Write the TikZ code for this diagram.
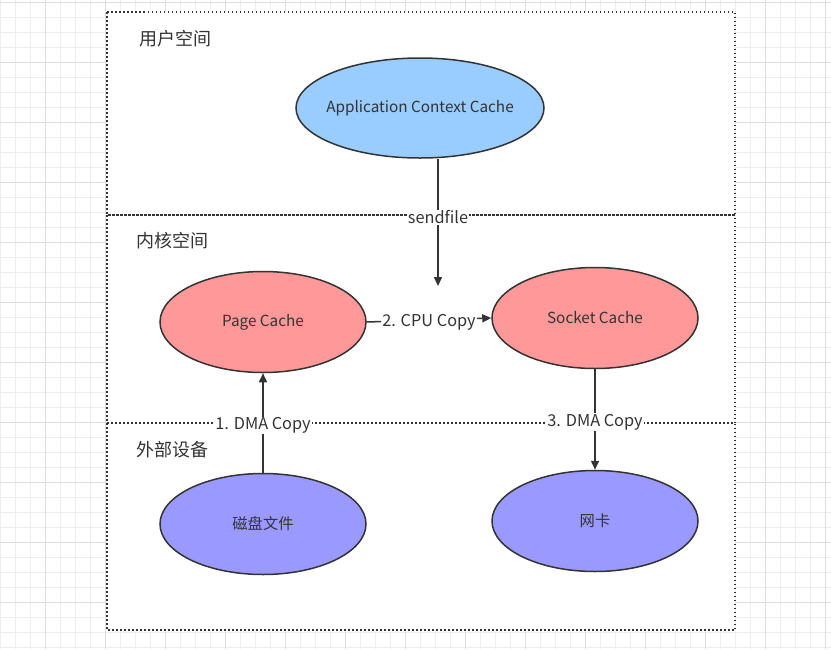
\documentclass[tikz,border=0pt]{standalone}
\usepackage{fontspec}
\setmainfont{Noto Sans CJK SC}
\usetikzlibrary{arrows.meta,shapes.geometric}
\definecolor{gridminor}{HTML}{EDEDED}
\definecolor{gridmajor}{HTML}{DEDEDE}
\definecolor{linec}{HTML}{333333}
\definecolor{bluefill}{HTML}{99CCFF}
\definecolor{redfill}{HTML}{FF9999}
\definecolor{purplefill}{HTML}{9999FF}
\newcommand{\ovaltext}[1]{\makebox[0pt]{\raisebox{-1.5pt}{#1}}}
\tikzset{
  oval/.style={ellipse, draw=linec, line width=1.5pt, inner sep=0pt, minimum width=#1, text=linec, font=\fontsize{15.3}{17}\selectfont},
  zone/.style={draw=linec, line width=1.5pt, dash pattern=on 1.5pt off 2.5pt},
  conn/.style={draw=linec, line width=1.5pt, -{Triangle[length=9pt,width=8pt]}},
  elabel/.style={fill=white, inner sep=1pt, text=linec, yshift=-2.5pt, font=\fontsize{16.3}{18}\selectfont},
  zlabel/.style={text=linec, anchor=west, inner sep=0pt, font=\fontsize{18}{20}\selectfont}
}
\begin{document}
\begin{tikzpicture}[x=1pt,y=-1pt]
\useasboundingbox (0,0) rectangle (831,649);
% grid
\foreach \i in {0,...,56} {\draw[gridminor, line width=0.8pt] (\i*15,0) -- (\i*15,649);}
\foreach \j in {0,...,44} {\draw[gridminor, line width=0.8pt] (0,\j*15+2) -- (831,\j*15+2);}
\foreach \i in {0,...,13} {\draw[gridmajor, line width=0.8pt] (\i*60+45,0) -- (\i*60+45,649);}
\foreach \j in {0,...,10} {\draw[gridmajor, line width=0.8pt] (0,\j*60+2) -- (831,\j*60+2);}
\fill[white] (107,12) rectangle (735,630);
% zones
\draw[zone] (107,12) rectangle (735,215);
\draw[zone] (107,215) rectangle (735,423);
\draw[zone] (107,423) rectangle (735,630);
\node[zlabel] (zu) at (139,39) {用户空间};
\node[zlabel] (zk) at (136,241) {内核空间};
\node[zlabel] (ze) at (136,450) {外部设备};
% ellipses
\node[oval=248pt, minimum height=100pt, fill=bluefill] (app) at (420,108) {\ovaltext{Application Context Cache}};
\node[oval=206pt, minimum height=101pt, fill=redfill] (page) at (263,322) {\ovaltext{Page Cache}};
\node[oval=206pt, minimum height=101pt, fill=redfill] (sock) at (595,318) {\ovaltext{Socket Cache}};
\node[oval=206pt, minimum height=101pt, fill=purplefill] (disk) at (263,524) {\ovaltext{磁盘文件}};
\node[oval=206pt, minimum height=101pt, fill=purplefill] (nic) at (595,521) {\ovaltext{网卡}};
% connectors
\coordinate (sfend) at (438,286);
\draw[conn] (app.south -| sfend) -- node[elabel, pos=0.44] {sendfile} (sfend);
\draw[conn] (page.east) -- node[elabel] {2. CPU Copy} (sock.west);
\draw[conn] (disk) -- node[elabel, pos=0.5] {1. DMA Copy} (page);
\draw[conn] (sock) -- node[elabel, pos=0.5] {3. DMA Copy} (nic);
\end{tikzpicture}
\end{document}
